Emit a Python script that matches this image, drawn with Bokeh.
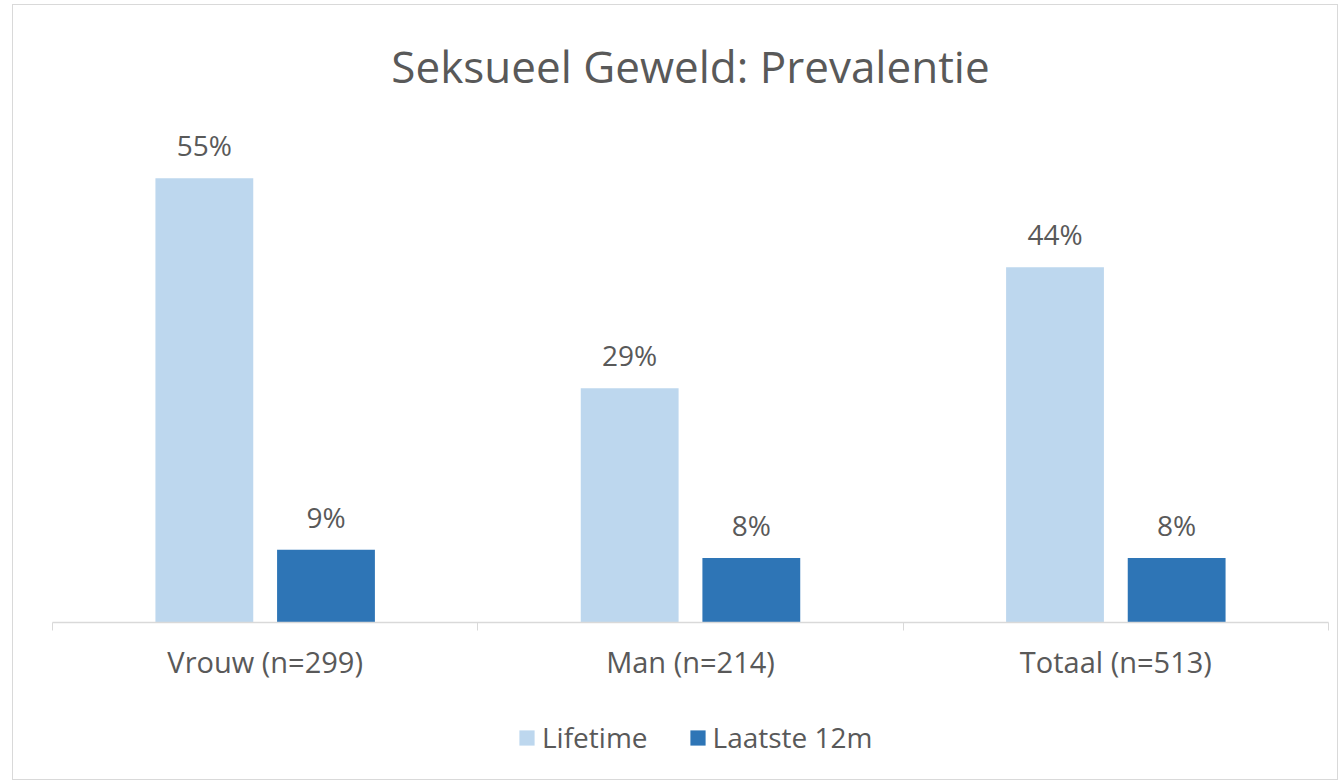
from bokeh.plotting import figure
from bokeh.layouts import column
from bokeh.models import ColumnDataSource, FixedTicker, Legend, LegendItem, Range1d
from bokeh.core.properties import value
from bokeh.embed import file_html
from bokeh.resources import INLINE

categories = ["Vrouw (n=299)", "Man (n=214)", "Totaal (n=513)"]
lifetime = [55, 29, 44]
laatste_12m = [9, 8, 8]
series_names = ["Lifetime", "Laatste 12m"]
title_text = "Seksueel Geweld: Prevalentie"

FONT = "Open Sans"
TXT = "#595959"
C_LIGHT = "#BDD7EE"
C_DARK = "#2E75B6"

n = len(categories)
centers = [i + 0.5 for i in range(n)]
offset = 0.143
bw = 0.23

src_a = ColumnDataSource(dict(
    x=[c - offset for c in centers], top=lifetime,
    lab=[f"{v}%" for v in lifetime]))
src_b = ColumnDataSource(dict(
    x=[c + offset for c in centers], top=laatste_12m,
    lab=[f"{v}%" for v in laatste_12m]))

# ---- main chart ----
p = figure(width=1324, height=695, output_backend="svg", toolbar_location=None,
           x_range=Range1d(0, n), y_range=Range1d(0, 63.4),
           min_border_left=39, min_border_right=9, min_border_top=105,
           min_border_bottom=78)
p.outline_line_color = None
p.grid.visible = False
p.yaxis.visible = False
p.background_fill_color = "white"
p.border_fill_color = "white"

p.title.text = title_text
p.title.align = "center"
p.title.text_font = FONT
p.title.text_font_size = "44px"
p.title.text_font_style = "normal"
p.title.text_color = TXT
p.title.standoff = 29

ra = p.vbar(x="x", top="top", width=bw, bottom=0, source=src_a,
            fill_color=C_LIGHT, line_color=None)
rb = p.vbar(x="x", top="top", width=bw, bottom=0, source=src_b,
            fill_color=C_DARK, line_color=None)

for s in (src_a, src_b):
    p.text(x="x", y="top", text="lab", source=s, text_align="center",
           text_baseline="bottom", y_offset=-14, text_color=TXT,
           text_font=value(FONT), text_font_size="28px")

ax = p.xaxis[0]
ax.ticker = FixedTicker(ticks=centers, minor_ticks=list(range(n + 1)))
ax.major_label_overrides = {c: lab for c, lab in zip(centers, categories)}
ax.major_tick_line_color = None
ax.major_tick_out = 0
ax.major_tick_in = 0
ax.minor_tick_line_color = "#D9D9D9"
ax.minor_tick_out = 8
ax.minor_tick_in = 0
ax.axis_line_color = "#D9D9D9"
ax.axis_line_width = 1.5
ax.major_label_text_font = FONT
ax.major_label_text_font_size = "29px"
ax.major_label_text_color = TXT
ax.major_label_standoff = 11

# ---- legend strip ----
pl = figure(width=1324, height=79, output_backend="svg", toolbar_location=None,
            x_range=Range1d(0, 1), y_range=Range1d(0, 1),
            x_axis_type=None, y_axis_type=None,
            min_border_left=0, min_border_right=0, min_border_top=0,
            min_border_bottom=0)
pl.outline_line_color = None
pl.grid.visible = False
pl.background_fill_color = "white"
pl.border_fill_color = "white"
la = pl.vbar(x="x", top="top", width=bw, bottom=0, source=src_a,
             fill_color=C_LIGHT, line_color=None, visible=False)
lb = pl.vbar(x="x", top="top", width=bw, bottom=0, source=src_b,
             fill_color=C_DARK, line_color=None, visible=False)

legend = Legend(items=[LegendItem(label=series_names[0], renderers=[la]),
                       LegendItem(label=series_names[1], renderers=[lb])],
                orientation="horizontal", location=(465, 23),
                click_policy="none",
                label_text_font=FONT, label_text_font_size="28px",
                label_text_color=TXT, glyph_width=19, glyph_height=19,
                label_standoff=6, spacing=40, padding=0, margin=0,
                border_line_color=None, background_fill_alpha=0)
pl.add_layout(legend, "center")

layout = column(p, pl, spacing=0)
layout.styles = {"border": "1px solid #D9D9D9", "margin": "4px 0px 0px 12px"}

open("out.html", "w").write(file_html(layout, INLINE))
